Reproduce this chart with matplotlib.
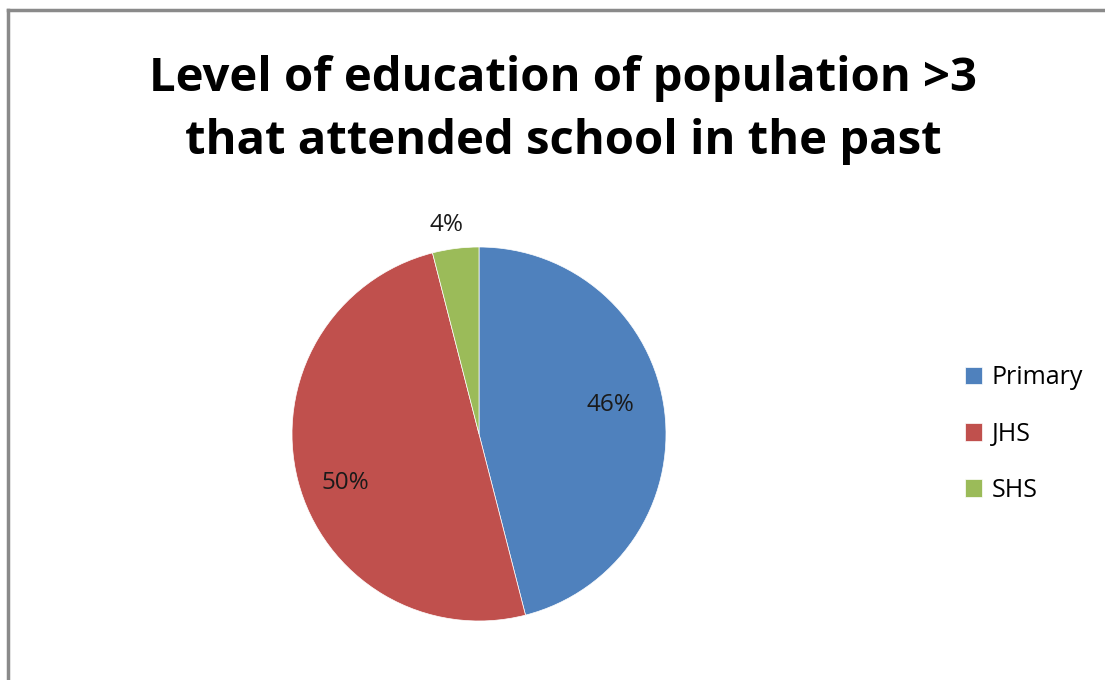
import matplotlib
matplotlib.use("Agg")
import matplotlib.pyplot as plt
from matplotlib.lines import Line2D
import numpy as np

categories = ["Primary", "JHS", "SHS"]
values = [46, 50, 4]
colors = ["#4F81BD", "#C0504D", "#9BBB59"]
title = "Level of education of population >3\nthat attended school in the past"

plt.rcParams['font.family'] = ['Open Sans', 'DejaVu Sans']

W, H = 1105, 680
fig = plt.figure(figsize=(W / 100, H / 100), dpi=100)
fig.patch.set_facecolor("white")

cx, cy, r = 479, 434, 187
ax = fig.add_axes([(cx - r) / W, (H - cy - r) / H, 2 * r / W, 2 * r / H])
wedges, _ = ax.pie(values, colors=colors, startangle=90, counterclock=False,
                   radius=1.0, wedgeprops=dict(linewidth=0.5, edgecolor="white"))
ax.set_xlim(-1, 1)
ax.set_ylim(-1, 1)
ax.set_aspect("auto")
ax.axis("off")

dists = [0.72, 0.76, 1.13]
ang_off = [5.3, 5.8, 1.7]
for w, v, d, o in zip(wedges, values, dists, ang_off):
    ang = np.deg2rad((w.theta1 + w.theta2) / 2 + o)
    ax.text(d * np.cos(ang), d * np.sin(ang), f"{v}%", ha="center", va="center",
            fontsize=17.5, color="#1a1a1a", clip_on=False)

fig.text(563 / W, 1 - 110 / H, title, ha="center", va="center", fontsize=34,
         fontweight="bold", linespacing=1.44, color="black")

leg = fig.legend(wedges, categories, loc="center left",
                 bbox_to_anchor=(942 / W, 1 - 434 / H), frameon=False,
                 fontsize=18, handlelength=0.7, handleheight=0.7,
                 handletextpad=0.4, labelspacing=1.25)

fig.add_artist(Line2D([7.5 / W, 7.5 / W], [0, 1 - 10 / H], color="#8a8a8a",
                      lw=2.5, transform=fig.transFigure))
fig.add_artist(Line2D([7.5 / W, 1], [1 - 10 / H, 1 - 10 / H], color="#8a8a8a",
                      lw=2.5, transform=fig.transFigure))

fig.savefig("out.png", dpi=100)
